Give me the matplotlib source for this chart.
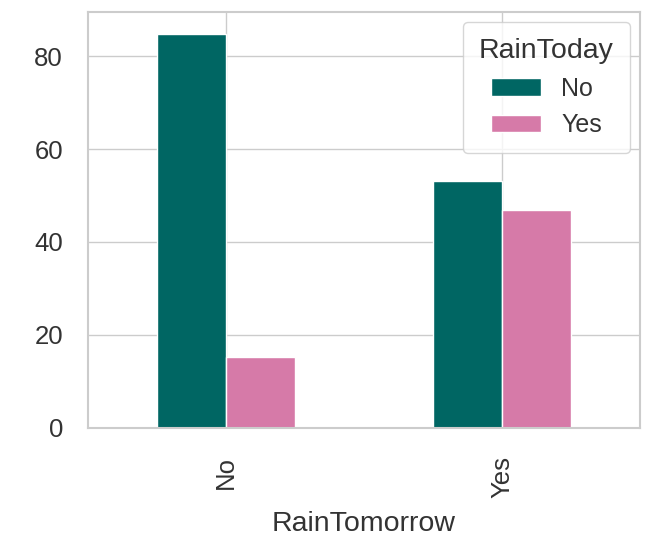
import pandas as pd
import matplotlib
matplotlib.use("Agg")
import matplotlib.pyplot as plt
import seaborn as sns

sns.set_theme(style="whitegrid")
plt.rcParams['font.family'] = ['Arial', 'Liberation Sans', 'DejaVu Sans']

categories = ["No", "Yes"]
rain_today_no = [84.7, 53.1]
rain_today_yes = [15.3, 46.9]

df = pd.DataFrame({"No": rain_today_no, "Yes": rain_today_yes}, index=categories)
df.index.name = "RainTomorrow"
df.columns.name = "RainToday"

fig, ax = plt.subplots(figsize=(6.62, 5.45), dpi=100)
df.plot(kind="bar", ax=ax, color=["#006663", "#d67aa8"], width=0.5, edgecolor="white")

ax.tick_params(axis="both", labelsize=18.5, colors="#333333")
ax.tick_params(axis="x", pad=14)
ax.tick_params(axis="y", pad=12)
ax.set_xlabel("RainTomorrow", fontsize=20.5, color="#333333", labelpad=10)
ax.set_yticks([0, 20, 40, 60, 80])
ax.set_ylim(0, 89.5)
for s in ax.spines.values():
    s.set_color("#cccccc")
    s.set_linewidth(1.5)
leg = ax.legend(title="RainToday", fontsize=18, title_fontsize=20.5, loc="upper right",
                borderaxespad=0.4, borderpad=0.65)
for t in leg.get_texts():
    t.set_color("#333333")
leg.get_title().set_color("#333333")

plt.subplots_adjust(left=0.133, right=0.967, top=0.978, bottom=0.215)
plt.savefig("out.png", dpi=100)
